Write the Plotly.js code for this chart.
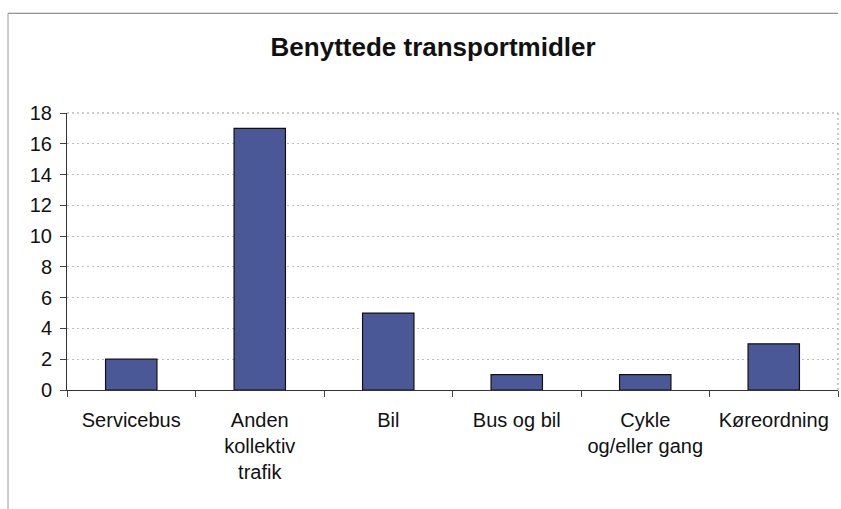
<!DOCTYPE html>
<html><head><meta charset="utf-8">
<script src="https://cdn.plot.ly/plotly-3.0.1.min.js"></script>
<style>body{margin:0;background:#fff}#c{width:841px;height:509px}</style>
</head><body><div id="c"></div>
<script>
const categories = ["Servicebus", "Anden<br>kollektiv<br>trafik", "Bil", "Bus og bil", "Cykle<br>og/eller gang", "Køreordning"];
const values = [2, 17, 5, 1, 1, 3];
const yTicks = [0, 2, 4, 6, 8, 10, 12, 14, 16, 18];

const trace = {
  type: 'bar', x: categories, y: values,
  marker: {color: '#4a5898', line: {color: '#111', width: 1.2}},
  hoverinfo: 'none'
};
const layout = {
  width: 841, height: 509,
  margin: {l: 67, r: 3, t: 113, b: 119},
  paper_bgcolor: '#fff', plot_bgcolor: '#fff',
  font: {family: 'Liberation Sans, Arial, sans-serif', color: '#111', size: 20},
  title: {text: '<b>Benyttede transportmidler</b>', font: {size: 26, color: '#111'}, x: 0.515, xanchor: 'center', y: 0.908, yanchor: 'middle'},
  bargap: 0.6,
  showlegend: false,
  xaxis: {
    type: 'category', tickson: 'boundaries', ticks: 'outside', ticklen: 6, tickcolor: '#444',
    showline: true, linecolor: '#333', linewidth: 1, showgrid: false,
    tickfont: {size: 20}, ticklabelstandoff: 12, automargin: false
  },
  yaxis: {
    range: [0, 18], tickvals: yTicks, ticks: 'outside', ticklen: 6, tickcolor: '#444',
    showline: true, linecolor: '#333', linewidth: 1,
    showgrid: true, gridcolor: '#bdbdbd', griddash: '2px,3px', gridwidth: 1,
    zeroline: false, tickfont: {size: 20}, ticklabelstandoff: 4, automargin: false
  },
  shapes: [
    {type: 'line', xref: 'paper', yref: 'paper', x0: 0, x1: 1, y0: 1, y1: 1, line: {color: '#999', width: 1, dash: '2px,3px'}},
    {type: 'line', xref: 'paper', yref: 'paper', x0: 1, x1: 1, y0: 0, y1: 1, line: {color: '#999', width: 1, dash: '2px,3px'}},
    {type: 'line', xref: 'paper', yref: 'paper', x0: -0.0765, x1: 1, y0: 1.36, y1: 1.36, line: {color: '#777', width: 1}},
    {type: 'line', xref: 'paper', yref: 'paper', x0: -0.0765, x1: -0.0765, y0: -0.43, y1: 1.36, line: {color: '#999', width: 1}}
  ]
};
Plotly.newPlot('c', [trace], layout, {displayModeBar: false, staticPlot: true});
</script></body></html>
